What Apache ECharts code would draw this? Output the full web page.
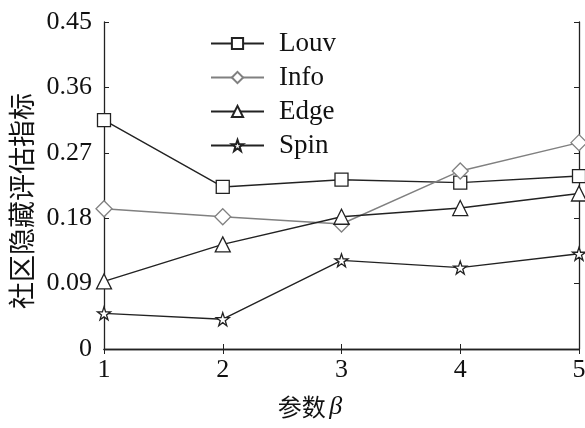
<!DOCTYPE html>
<html><head><meta charset="utf-8">
<script src="https://cdn.jsdelivr.net/npm/echarts@6/dist/echarts.min.js"></script>
<style>html,body{margin:0;padding:0;background:#fff}#c{width:585px;height:428px}</style>
</head><body><div id="c"></div>
<script>
const xValues = [1, 2, 3, 4, 5];
const louv = [0.315, 0.223, 0.233, 0.229, 0.238];
const info = [0.193, 0.182, 0.172, 0.245, 0.284];
const edge = [0.093, 0.144, 0.182, 0.194, 0.214];
const spin = [0.049, 0.041, 0.122, 0.112, 0.131];
const seriesNames = ['Louv', 'Info', 'Edge', 'Spin'];
const yTicks = [0, 0.09, 0.18, 0.27, 0.36, 0.45];
const xTitleCn = '参数';
const xTitleSym = 'β';
const yTitle = '社区隐藏评估指标';

const star = 'path://M50,0 L61.8,35.1 L97.6,35.1 L68.5,56.7 L79.4,91.9 L50,70.5 L20.6,91.9 L31.5,56.7 L2.4,35.1 L38.2,35.1 Z';
const serif = '"Liberation Serif","DejaVu Serif",serif';
const cjk = '"Noto Sans CJK SC",serif';
const dark = '#222', gray = '#808080';

function mk(name, data, color, symbol, size) {
  return {
    name, type: 'line', data: xValues.map((x, i) => [x, data[i]]),
    symbol, symbolSize: size, showSymbol: true,
    lineStyle: { color, width: 1.4 },
    itemStyle: { color: '#fff', borderColor: color, borderWidth: 1.3 },
    emphasis: { disabled: true }, animation: false, z: 3
  };
}

const chart = echarts.init(document.getElementById('c'));
chart.setOption({
  animation: false,
  grid: { left: 104, right: 6, top: 22, bottom: 79, outerBoundsMode: 'none', containLabel: false },
  legend: {
    orient: 'vertical', left: 205, top: 25, itemGap: 7,
    itemWidth: 53, itemHeight: 14,
    textStyle: { fontFamily: serif, fontSize: 27, color: '#111', padding: [0, 0, 0, 10] },
    data: seriesNames
  },
  graphic: [
    { type: 'text', x: 310, y: 407, style: {
      text: '{a|' + xTitleCn + '} {b|' + xTitleSym + '}',
      rich: { a: { font: '24px ' + cjk, fill: '#111' }, b: { font: 'italic 26px ' + serif, fill: '#111' } },
      textAlign: 'center', textVerticalAlign: 'middle' } },
    { type: 'text', x: 22, y: 201, rotation: Math.PI / 2, style: { text: yTitle, font: '27px ' + cjk, fill: '#111', textAlign: 'center', textVerticalAlign: 'middle' } }
  ],
  xAxis: [{
    type: 'value', min: 1, max: 5, interval: 1,
    axisLine: { lineStyle: { color: dark, width: 1.3 } },
    axisTick: { inside: true, length: 5, lineStyle: { color: dark } },
    splitLine: { show: false },
    axisLabel: { fontFamily: serif, fontSize: 26, color: '#111', margin: 8 }
  }, {
    type: 'value', min: 1, max: 5, interval: 1, position: 'top',
    axisLine: { show: true, lineStyle: { color: dark, width: 1.3 } },
    axisTick: { show: true, inside: true, length: 5, lineStyle: { color: dark } },
    axisLabel: { show: false }, splitLine: { show: false }
  }],
  yAxis: [{
    type: 'value', min: 0, max: 0.45, interval: 0.09,
    axisLine: { show: true, lineStyle: { color: dark, width: 1.3 } },
    axisTick: { show: true, inside: true, length: 5, lineStyle: { color: dark } },
    splitLine: { show: false },
    axisLabel: { fontFamily: serif, fontSize: 26, color: '#111', margin: 12,
      formatter: v => { const t = yTicks.find(k => Math.abs(k - v) < 1e-9); return t === 0 ? '0' : String(t); } }
  }, {
    type: 'value', min: 0, max: 0.45, interval: 0.09, position: 'right',
    axisLine: { show: true, lineStyle: { color: dark, width: 1.3 } },
    axisTick: { show: true, inside: true, length: 5, lineStyle: { color: dark } },
    axisLabel: { show: false }, splitLine: { show: false }
  }],
  series: [
    mk('Louv', louv, dark, 'rect', 13),
    mk('Info', info, gray, 'diamond', 16),
    mk('Edge', edge, dark, 'triangle', 15),
    mk('Spin', spin, dark, star, 13)
  ]
});
</script></body></html>
